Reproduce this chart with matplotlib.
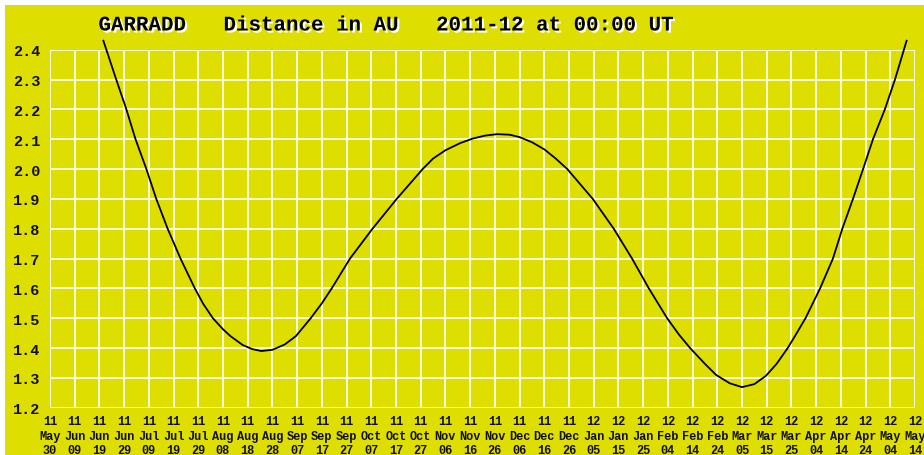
import datetime
import numpy as np
import matplotlib
matplotlib.use("Agg")
from matplotlib import pyplot as plt
import matplotlib.patheffects as pe

# days since 2011-05-30 and distance in AU
days = [21.6, 26.8, 30.9, 34.6, 39.0, 43.0, 47.6, 52.8, 58.6, 62.0,
        65.9, 70.0, 73.0, 78.0, 82.0, 85.5, 90.0, 95.0, 99.5, 105.5,
        110.0, 114.0, 121.4, 130.5, 140.3, 150.8, 155.0, 160.0, 166.0, 171.0,
        176.0, 181.0, 186.0, 190.0, 195.0, 200.0, 204.5, 209.3, 219.6, 228.1,
        235.5, 242.3, 249.7, 254.5, 259.0, 265.0, 269.5, 275.0, 280.0, 285.0,
        289.7, 294.0, 298.5, 302.0, 305.7, 311.6, 316.8, 320.6, 324.9, 329.0,
        333.0, 337.8, 341.9, 346.6]
dist_au = [2.43, 2.30, 2.20, 2.10, 2.00, 1.90, 1.80, 1.70, 1.60, 1.548,
           1.50, 1.463, 1.44, 1.41, 1.396, 1.39, 1.394, 1.412, 1.44, 1.50,
           1.55, 1.60, 1.70, 1.80, 1.90, 2.00, 2.035, 2.063, 2.087, 2.102,
           2.112, 2.117, 2.115, 2.107, 2.09, 2.066, 2.036, 2.00, 1.90, 1.80,
           1.70, 1.60, 1.50, 1.445, 1.40, 1.347, 1.31, 1.282, 1.269, 1.279,
           1.307, 1.347, 1.40, 1.448, 1.50, 1.60, 1.70, 1.80, 1.90, 2.00,
           2.10, 2.20, 2.30, 2.43]

start = datetime.date(2011, 5, 30)
tick_days = list(range(0, 351, 10))
y_ticks = [1.2, 1.3, 1.4, 1.5, 1.6, 1.7, 1.8, 1.9, 2.0, 2.1, 2.2, 2.3, 2.4]

title = "GARRADD   Distance in AU   2011-12 at 00:00 UT"

yellow = "#dede00"
mono = "Liberation Mono"

fig = plt.figure(figsize=(9.24, 4.56), dpi=100)
fig.patch.set_facecolor("white")
# yellow panel, thin white strip on top and left
fig.patches.append(plt.Rectangle((5 / 924, 0), 1, 450 / 456, transform=fig.transFigure,
                                 facecolor=yellow, edgecolor="none", zorder=-5))

ax = fig.add_axes([50 / 924, 1 - 408.7 / 456, 865 / 924, 358 / 456])
ax.set_zorder(2)
ax.set_facecolor(yellow)
for s in ax.spines.values():
    s.set_visible(False)

ax.set_xlim(0, 350)
ax.set_ylim(1.2, 2.4)

labels = []
for d in tick_days:
    dt = start + datetime.timedelta(days=d)
    labels.append(dt.strftime("%y\n%b\n%d"))
ax.set_xticks(tick_days)
ax.set_xticklabels(labels, fontfamily=mono, fontweight="bold", fontsize=8.6,
                   linespacing=1.32, color="#111111")
ax.set_yticks(y_ticks)
ax.set_yticklabels(["%.1f" % v for v in y_ticks], fontfamily=mono, fontweight="bold",
                   fontsize=11, color="#111111")
ax.tick_params(length=0, pad=5)
ax.tick_params(axis="y", pad=7)

ax.grid(True, color="#fffff0", linewidth=1.3)
ax.set_axisbelow(True)

ax.plot(days, dist_au, color="black", linewidth=1.3, clip_on=False, zorder=3,
        solid_joinstyle="round")

fig.text(386 / 924, 1 - 26 / 456, title, ha="center", va="center",
         fontfamily=mono, fontweight="bold", fontsize=15, color="black", zorder=5,
         path_effects=[pe.SimplePatchShadow(offset=(1.5, -1.5), shadow_rgbFace="white", alpha=1.0),
                       pe.Normal()])

fig.savefig("out.png", dpi=100, facecolor=fig.get_facecolor())
